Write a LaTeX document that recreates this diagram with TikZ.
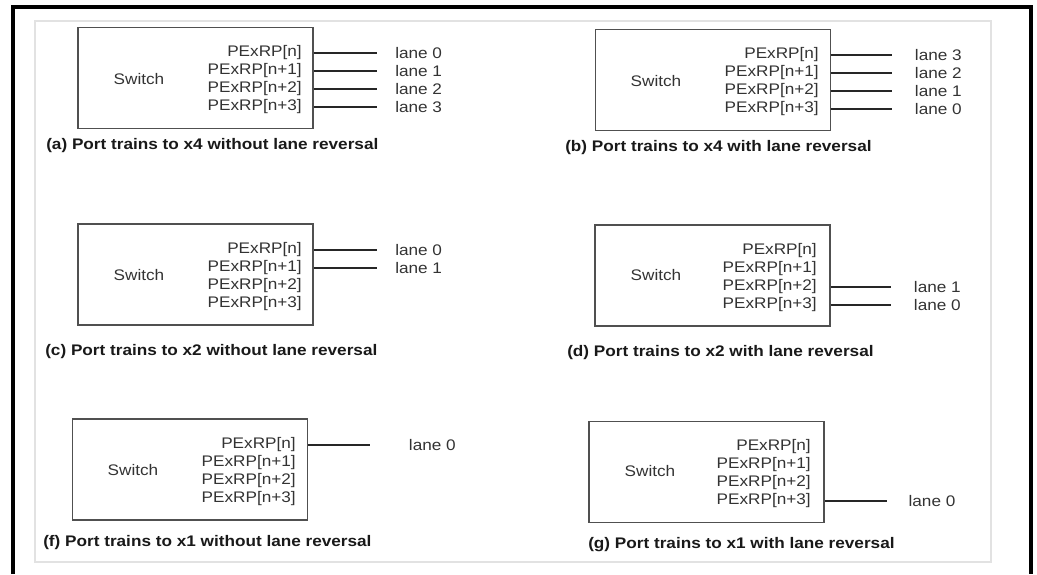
\documentclass[tikz,border=0pt]{standalone}
\usepackage{fontspec}
\setmainfont{Liberation Sans}[FakeStretch=1.12]

\definecolor{boxgray}{HTML}{505050}
\definecolor{txtgray}{HTML}{333333}
\definecolor{framegray}{HTML}{E2E2E2}

\tikzset{
  swbox/.style={draw=boxgray, line width=1.2pt, minimum width=176.25pt, minimum height=75.75pt, inner sep=0pt},
  swlabel/.style={text=txtgray, font=\fontsize{11.5}{12}\selectfont, inner sep=0pt},
  port/.style={anchor=east, text=txtgray, font=\fontsize{11.5}{12}\selectfont, inner sep=0pt},
  lane/.style={anchor=west, text=txtgray, font=\fontsize{11.5}{12}\selectfont, inner ysep=0pt, inner xsep=13.5pt},
  wire/.style={draw=black!85, line width=0.9pt},
  caption/.style={anchor=west, text=black!90, font=\fontsize{11.5}{12}\selectfont\bfseries, inner sep=0pt}
}

\begin{document}
\begin{tikzpicture}[x=0.75pt, y=-0.75pt] % one unit = one pixel
  \useasboundingbox (0,0) rectangle (1037,574);

  % Frames
  \draw[framegray, line width=0.8pt] (35,21) rectangle (991,562);
  \draw[black, line width=2.3pt] (13,574) -- (13,7) -- (1031,7) -- (1031,574);

  % (a) x4 without lane reversal
  \node[swbox] (boxa) at (195.5,78) {};
  \node[swlabel] (swa) at (139,79) {Switch};
  \foreach \i/\t in {0/n,1/n+1,2/n+2,3/n+3}
    \node[port] (pa\i) at (302,{53+18*\i}) {PExRP[\t]};
  \foreach \i in {0,...,3} {
    \node[lane] (la\i) at (377,{53+18*\i}) {lane \i};
    \draw[wire] (boxa.east |- pa\i) -- (la\i.west);
  }
  \node[caption] (capa) at (46,146) {(a) Port trains to x4 without lane reversal};

  % (b) x4 with lane reversal
  \node[swbox] (boxb) at (713,80) {};
  \node[swlabel] (swb) at (656,81) {Switch};
  \foreach \i/\t in {0/n,1/n+1,2/n+2,3/n+3}
    \node[port] (pb\i) at (819,{55+18*\i}) {PExRP[\t]};
  \foreach \i in {0,...,3} {
    \pgfmathtruncatemacro\k{3-\i}
    \node[lane, inner xsep=17pt] (lb\i) at (892,{55+18*\i}) {lane \k};
    \draw[wire] (boxb.east |- pb\i) -- (lb\i.west);
  }
  \node[caption] (capb) at (565,148) {(b) Port trains to x4 with lane reversal};

  % (c) x2 without lane reversal
  \node[swbox] (boxc) at (195.5,274.5) {};
  \node[swlabel] (swc) at (139,275) {Switch};
  \foreach \i/\t in {0/n,1/n+1,2/n+2,3/n+3}
    \node[port] (pc\i) at (302,{250+18*\i}) {PExRP[\t]};
  \foreach \i in {0,1} {
    \node[lane] (lc\i) at (377,{250+18*\i}) {lane \i};
    \draw[wire] (boxc.east |- pc\i) -- (lc\i.west);
  }
  \node[caption] (capc) at (45,352) {(c) Port trains to x2 without lane reversal};

  % (d) x2 with lane reversal
  \node[swbox] (boxd) at (712.5,275.5) {};
  \node[swlabel] (swd) at (656,275) {Switch};
  \foreach \i/\t in {0/n,1/n+1,2/n+2,3/n+3}
    \node[port] (pd\i) at (817,{251+18*\i}) {PExRP[\t]};
  \foreach \i in {2,3} {
    \pgfmathtruncatemacro\k{3-\i}
    \node[lane, inner xsep=17pt] (ld\i) at (891,{251+18*\i}) {lane \k};
    \draw[wire] (boxd.east |- pd\i) -- (ld\i.west);
  }
  \node[caption] (capd) at (567,353) {(d) Port trains to x2 with lane reversal};

  % (f) x1 without lane reversal
  \node[swbox] (boxf) at (190,469.5) {};
  \node[swlabel] (swf) at (133,470) {Switch};
  \foreach \i/\t in {0/n,1/n+1,2/n+2,3/n+3}
    \node[port] (pf\i) at (296,{445+18*\i}) {PExRP[\t]};
  \node[lane, inner xsep=29pt] (lf0) at (370,445) {lane 0};
  \draw[wire] (boxf.east |- pf0) -- (lf0.west);
  \node[caption] (capf) at (43,543) {(f) Port trains to x1 without lane reversal};

  % (g) x1 with lane reversal
  \node[swbox] (boxg) at (706.5,472) {};
  \node[swlabel] (swg) at (650,471) {Switch};
  \foreach \i/\t in {0/n,1/n+1,2/n+2,3/n+3}
    \node[port] (pg\i) at (811,{447+18*\i}) {PExRP[\t]};
  \node[lane, inner xsep=16pt] (lg3) at (887,{447+18*3}) {lane 0};
  \draw[wire] (boxg.east |- pg3) -- (lg3.west);
  \node[caption] (capg) at (588,545) {(g) Port trains to x1 with lane reversal};

\end{tikzpicture}
\end{document}
